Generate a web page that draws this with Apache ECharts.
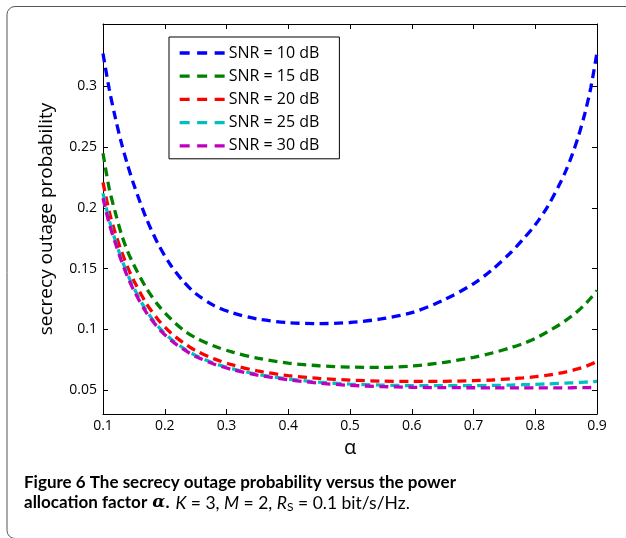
<!DOCTYPE html>
<html><head><meta charset="utf-8">
<script src="https://cdn.jsdelivr.net/npm/echarts@6/dist/echarts.min.js"></script>
<style>html,body{margin:0;padding:0;background:#fff}#c{width:626px;height:538px}</style>
</head><body><div id="c"></div>
<script>
// ---- data ----
const alpha  = [0.10,0.11,0.12,0.13,0.14,0.15,0.17,0.19,0.21,0.23,0.25,0.28,0.31,0.35,0.40,0.45,0.50,0.55,0.60,0.65,0.70,0.73,0.76,0.78,0.80,0.82,0.84,0.85,0.86,0.87,0.88,0.89,0.90];
const snr10 = [0.327,0.298,0.274,0.253,0.235,0.219,0.1915,0.1695,0.1525,0.1395,0.1295,0.1195,0.1135,0.1085,0.1055,0.1047,0.1056,0.1085,0.1137,0.1237,0.1375,0.149,0.163,0.174,0.186,0.201,0.220,0.231,0.244,0.259,0.277,0.299,0.328];
const snr15 = [0.245,0.216,0.196,0.178,0.164,0.153,0.134,0.1195,0.1085,0.0995,0.0930,0.0862,0.0812,0.0763,0.0722,0.0700,0.0689,0.0686,0.0698,0.0726,0.0770,0.0805,0.0848,0.0882,0.0925,0.0980,0.1040,0.1075,0.1113,0.1155,0.1203,0.1258,0.1320];
const snr20 = [0.221,0.197,0.179,0.164,0.151,0.140,0.1215,0.1075,0.0970,0.0890,0.0825,0.0757,0.0707,0.0658,0.0619,0.0596,0.0582,0.0574,0.0571,0.0572,0.0577,0.0583,0.0592,0.0600,0.0610,0.0623,0.0640,0.0650,0.0662,0.0676,0.0692,0.0712,0.0737];
const snr25 = [0.212,0.190,0.173,0.158,0.145,0.134,0.1155,0.1020,0.0920,0.0845,0.0785,0.0720,0.0675,0.0630,0.0592,0.0565,0.0549,0.0541,0.0537,0.0536,0.0536,0.0538,0.0541,0.0544,0.0547,0.0551,0.0555,0.0557,0.0560,0.0562,0.0565,0.0568,0.0571];
const snr30 = [0.208,0.187,0.171,0.156,0.143,0.132,0.1140,0.1008,0.0910,0.0836,0.0777,0.0713,0.0668,0.0623,0.0585,0.0557,0.0539,0.0529,0.0523,0.0520,0.0519,0.0518,0.0518,0.0518,0.0518,0.0518,0.0518,0.0518,0.0519,0.0520,0.0520,0.0521,0.0522];
const seriesNames = ['SNR = 10 dB','SNR = 15 dB','SNR = 20 dB','SNR = 25 dB','SNR = 30 dB'];
const seriesValues = [snr10, snr15, snr20, snr25, snr30];
const seriesColors = ['#0000ff','#008000','#ff0000','#00bfbf','#bf00bf'];
const xTicks = [0.1,0.2,0.3,0.4,0.5,0.6,0.7,0.8,0.9];
const yTicks = [0.05,0.1,0.15,0.2,0.25,0.3];
const xMin = 0.1, xMax = 0.9, yMin = 0.0303, yMax = 0.3513;

const FONT = 'Open Sans';
const CAP = 'Lato';
const chart = echarts.init(document.getElementById('c'), null, {renderer:'canvas'});
const fmt = v => String(+v.toFixed(2));
const tickStyle = {show:true, inside:true, length:5, lineStyle:{color:'#000', width:1}};
const lineAx = {show:true, onZero:false, lineStyle:{color:'#000', width:1}};

const option = {
  backgroundColor:'#fff',
  animation:false,
  grid:{left:103, right:29, top:24, bottom:124, containLabel:false},
  xAxis:[
    {type:'value', min:xMin, max:xMax, position:'bottom',
     axisLine:lineAx, axisTick:Object.assign({customValues:xTicks}, tickStyle),
     axisLabel:{customValues:xTicks, formatter:fmt, color:'#000', fontSize:14, fontFamily:FONT, margin:5, hideOverlap:false},
     splitLine:{show:false},
     name:'α', nameLocation:'middle', nameGap:19, nameTextStyle:{fontSize:20, color:'#000', fontFamily:FONT}},
    {type:'value', min:xMin, max:xMax, position:'top',
     axisLine:lineAx, axisTick:Object.assign({customValues:xTicks}, tickStyle),
     axisLabel:{show:false}, splitLine:{show:false}}
  ],
  yAxis:[
    {type:'value', min:yMin, max:yMax, position:'left',
     axisLine:lineAx, axisTick:Object.assign({customValues:yTicks}, tickStyle),
     axisLabel:{customValues:yTicks, formatter:fmt, color:'#000', fontSize:14, fontFamily:FONT, margin:6, hideOverlap:false},
     splitLine:{show:false},
     name:'secrecy outage probability', nameLocation:'middle', nameGap:47, nameRotate:90,
     nameTextStyle:{fontSize:19, color:'#000', fontFamily:FONT}},
    {type:'value', min:yMin, max:yMax, position:'right',
     axisLine:lineAx, axisTick:Object.assign({customValues:yTicks}, tickStyle),
     axisLabel:{show:false}, splitLine:{show:false}}
  ],
  legend:{
    orient:'vertical', left:169, top:37,
    data:seriesNames,
    backgroundColor:'#fff', borderColor:'#000', borderWidth:1, borderRadius:0,
    padding:[8,20,5,9],
    itemWidth:45, itemHeight:14, itemGap:7.2,
    lineStyle:{width:3.3, type:[10,7.5]},
    itemStyle:{opacity:0, color:'transparent', borderColor:'transparent', borderWidth:0},
    textStyle:{fontSize:16, color:'#000', fontFamily:FONT, lineHeight:16, padding:[0,0,0,-1]}
  },
  series: seriesNames.map((name,i)=>({
    name, type:'line', xAxisIndex:0, yAxisIndex:0,
    data: alpha.map((a,j)=>[a, seriesValues[i][j]]),
    symbol:'none', showSymbol:false, smooth:0.3,
    color:seriesColors[i],
    lineStyle:{color:seriesColors[i], width:3.3, type:[9,5.5]},
    z: 2 + i
  })),
  graphic:[
    {type:'rect', silent:true, z:-1,
     shape:{x:7, y:6.5, width:700, height:532, r:8},
     style:{fill:'none', stroke:'#555', lineWidth:1}},
    {type:'text', left:24, top:474, silent:true,
     style:{
       text:'{b|Figure 6 The secrecy outage probability versus the power}\n{b|allocation factor }{ba|α}{bp|.}{i|K}{r| = 3, }{i|M}{r| = 2, }{i|R}{s|S}{r| = 0.1 bit/s/Hz.}',
       fill:'#000',
       rich:{
         b:{fontFamily:CAP, fontWeight:'bold', fontSize:17, lineHeight:20.5, fill:'#000'},
         ba:{fontFamily:'DejaVu Serif', fontWeight:'bold', fontStyle:'italic', fontSize:17, lineHeight:20.5, fill:'#000', padding:[0,0,0,1]},
         bp:{fontFamily:CAP, fontWeight:'bold', fontSize:17, lineHeight:20.5, fill:'#000', padding:[0,6,0,0]},
         r:{fontFamily:CAP, fontSize:17.5, lineHeight:20.5, fill:'#000'},
         i:{fontFamily:CAP, fontStyle:'italic', fontSize:17.5, lineHeight:20.5, fill:'#000'},
         s:{fontFamily:CAP, fontSize:12, lineHeight:20.5, fill:'#000', padding:[8,0,0,0]}
       }
     }}
  ]
};
chart.setOption(option);
</script>
</body></html>
